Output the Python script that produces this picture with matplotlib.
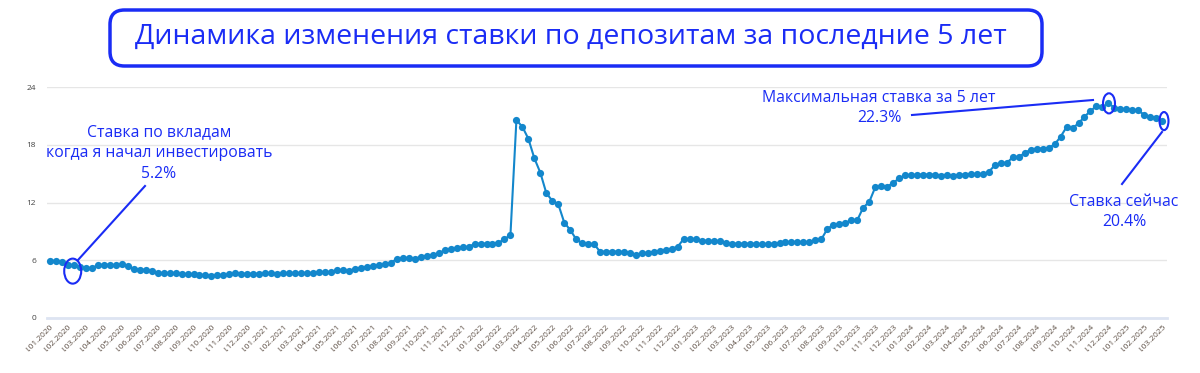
import matplotlib
matplotlib.use("Agg")
import matplotlib.pyplot as plt
from matplotlib.patches import Ellipse, FancyBboxPatch
from matplotlib.lines import Line2D

plt.rcParams['font.family'] = ['Open Sans', 'DejaVu Sans']

# max deposit rate by decade (I, II, III) from Jan 2020 to I.03.2025
rates = [
    5.95, 5.92, 5.78, 5.54, 5.47, 5.33, 5.15, 5.19, 5.47, 5.54,
    5.54, 5.47, 5.57, 5.43, 5.08, 5.01, 5.01, 4.84, 4.70, 4.63,
    4.63, 4.63, 4.60, 4.56, 4.56, 4.50, 4.45, 4.38, 4.42, 4.46,
    4.53, 4.63, 4.60, 4.60, 4.60, 4.60, 4.63, 4.63, 4.60, 4.63,
    4.67, 4.67, 4.63, 4.63, 4.70, 4.74, 4.77, 4.77, 4.98, 4.95,
    4.87, 5.12, 5.22, 5.31, 5.40, 5.50, 5.57, 5.74, 6.13, 6.26,
    6.23, 6.13, 6.37, 6.44, 6.54, 6.72, 7.03, 7.17, 7.24, 7.38,
    7.35, 7.72, 7.72, 7.72, 7.72, 7.80, 8.20, 8.60, 20.56, 19.87,
    18.62, 16.60, 15.10, 12.98, 12.18, 11.83, 9.92, 9.15, 8.18, 7.76,
    7.66, 7.66, 6.89, 6.89, 6.89, 6.89, 6.86, 6.79, 6.58, 6.72,
    6.79, 6.86, 6.96, 7.07, 7.20, 7.41, 8.25, 8.18, 8.18, 8.04,
    8.01, 8.01, 7.97, 7.76, 7.72, 7.72, 7.72, 7.72, 7.72, 7.66,
    7.69, 7.72, 7.76, 7.87, 7.87, 7.87, 7.90, 7.87, 8.11, 8.18,
    9.26, 9.68, 9.78, 9.85, 10.20, 10.16, 11.48, 12.05, 13.57, 13.68,
    13.64, 14.03, 14.51, 14.82, 14.82, 14.90, 14.90, 14.90, 14.90, 14.79,
    14.90, 14.72, 14.90, 14.90, 14.97, 14.97, 14.97, 15.18, 15.87, 16.11,
    16.11, 16.70, 16.70, 17.16, 17.47, 17.61, 17.61, 17.68, 18.03, 18.83,
    19.83, 19.73, 20.22, 20.92, 21.50, 22.03, 21.92, 22.30, 21.86, 21.75,
    21.68, 21.61, 21.58, 21.09, 20.92, 20.81, 20.45,
]

years = [2020, 2021, 2022, 2023, 2024, 2025]
decades = ['I', 'II', 'III']
dates = []
for y in years:
    for m in range(1, 13):
        for d in decades:
            dates.append(f'{d}.{m:02d}.{y}')
dates = dates[:len(rates)]

yticks = [0, 6, 12, 18, 24]

title = 'Динамика изменения ставки по депозитам за последние 5 лет'
note_start = 'Ставка по вкладам\nкогда я начал инвестировать\n5.2%'
note_max = 'Максимальная ставка за 5 лет\n22.3%'
note_now = 'Ставка сейчас\n20.4%'

blue = '#1a2cf5'
W, H = 1200, 373


def px(x, y):
    return x / W, 1 - y / H


fig = plt.figure(figsize=(12, 3.73), dpi=100)
ax = fig.add_axes([47 / W, 1 - 318 / H, (1167 - 47) / W, (318 - 87) / H])

x = list(range(len(rates)))
ax.plot(x, rates, color='#1387cc', lw=1.5, marker='o', ms=5.2,
        markeredgewidth=0, clip_on=False, zorder=3)

ax.set_xlim(-0.5, len(rates) - 0.2)
ax.set_ylim(0, 24)
ax.set_yticks(yticks)
ax.set_yticklabels([str(t) for t in yticks], fontsize=6, color='#444444')
ax.set_xticks(x[::3])
ax.set_xticklabels(dates[::3], rotation=45, ha='right', rotation_mode='anchor',
                   fontsize=6, color='#5e5046')
ax.tick_params(length=0, pad=4)
ax.tick_params(axis='y', pad=8)
ax.grid(axis='y', color='#e6e6e6', lw=1)
ax.set_axisbelow(True)
for s in ['top', 'right', 'left']:
    ax.spines[s].set_visible(False)
ax.spines['bottom'].set_color('#dde4f2')
ax.spines['bottom'].set_linewidth(2)

# title box
box = FancyBboxPatch(px(110, 66), 932 / W, 56 / H, transform=fig.transFigure,
                     boxstyle='round,pad=0,rounding_size=0.012', fc='white',
                     ec=blue, lw=2.5, mutation_aspect=W / H)
fig.patches.append(box)
fig.text(*px(571, 37), title, ha='center', va='center', fontsize=20.5,
         color=blue, fontweight='medium')

# annotations
fig.text(*px(159, 153), note_start, ha='center', va='center', fontsize=11.3,
         color=blue, linespacing=1.4)
fig.text(*px(879, 108), note_max, ha='center', va='center', fontsize=11.4,
         color=blue, linespacing=1.4)
fig.text(*px(1124, 212), note_now, ha='center', va='center', fontsize=11.4,
         color=blue, linespacing=1.4)

for (x0, y0), (x1, y1) in [((145, 186), (78, 260)), ((912, 115), (1093, 100)),
                           ((1122, 184), (1162, 132))]:
    fig.add_artist(Line2D([x0 / W, x1 / W], [1 - y0 / H, 1 - y1 / H],
                          transform=fig.transFigure, color=blue, lw=1.5))

for cx, cy, w, h in [(3.8, 4.87, 2.84, 2.6), (177.1, 22.3, 2.0, 2.09),
                     (186.3, 20.46, 1.5, 1.88)]:
    ax.add_patch(Ellipse((cx, cy), w, h, fill=False, ec=blue, lw=1.5,
                         clip_on=False, zorder=4))

fig.savefig('out.png', dpi=100)
